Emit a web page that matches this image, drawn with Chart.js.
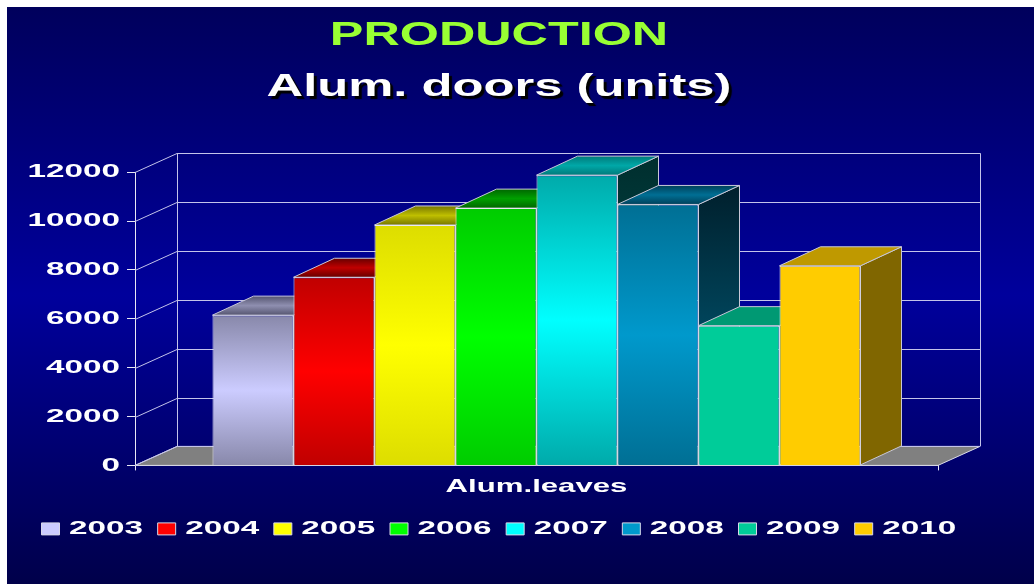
<!DOCTYPE html>
<html><head><meta charset="utf-8">
<script src="https://cdn.jsdelivr.net/npm/chart.js@4/dist/chart.umd.min.js"></script>
<style>html,body{margin:0;padding:0;background:#fff;overflow:hidden}canvas{display:block}</style>
</head><body><canvas id="c" width="1034" height="584"></canvas>
<script>
const categories = ['Alum.leaves'];
const years = ['2003','2004','2005','2006','2007','2008','2009','2010'];
const values = [6150,7700,9840,10530,11880,10680,5720,8170];
const yTicks = [0,2000,4000,6000,8000,10000,12000];
const frontEdge = ['#8888aa','#c00000','#dddd00','#00cc00','#00aaaa','#006f94','#00cc99','#ffcc00'];
const frontMid  = ['#ccccff','#ff0000','#ffff00','#00ff00','#00ffff','#0099cc','#00cc99','#ffcc00'];
const topEnds   = ['#555570','#660000','#777700','#006600','#007a7a','#00405a','#009973','#bf9900'];
const topMid    = ['#8f8fb0','#c00000','#bfbf00','#00a000','#00a8a8','#006f94','#009973','#bf9900'];
const sideTop   = ['#333350','#500000','#505000','#005000','#002e2e','#001f2c','#004d39','#806600'];
const sideBottom= ['#444460','#800000','#808000','#008000','#006060','#006a8a','#006650','#806600'];
const DX = 41, DY = 19;
const STRETCH = {'PRODUCTION':1.48,'Alum. doors (units)':1.585,'Alum.leaves':1.64};

const canvas = document.getElementById('c');
const c2d = canvas.getContext('2d');
const rawFill = c2d.fillText.bind(c2d);
c2d.fillText = function(t,x,y){
  const k = STRETCH[t] || 1.75;
  c2d.save();
  c2d.translate(x,y); c2d.scale(k,1);
  if(t === 'Alum. doors (units)'){ c2d.shadowColor='#000'; c2d.shadowOffsetX=3; c2d.shadowOffsetY=3; c2d.shadowBlur=1; }
  rawFill(t,0,0);
  c2d.restore();
};

function poly(ctx,pts,fill,stroke){
  ctx.beginPath();
  pts.forEach((p,i)=> i?ctx.lineTo(p[0],p[1]):ctx.moveTo(p[0],p[1]));
  ctx.closePath();
  if(fill){ctx.fillStyle=fill;ctx.fill();}
  if(stroke){ctx.strokeStyle=stroke;ctx.lineWidth=1;ctx.stroke();}
}
function line(ctx,a,b,c,d){ctx.beginPath();ctx.moveTo(a,b);ctx.lineTo(c,d);ctx.stroke();}

const scene = {
  id:'scene',
  beforeDraw(ch){
    const ctx=ch.ctx;
    ctx.save();
    const g=ctx.createLinearGradient(0,7,0,584);
    g.addColorStop(0,'#00005c'); g.addColorStop(0.5,'#00009c'); g.addColorStop(1,'#00004a');
    ctx.fillStyle=g; ctx.fillRect(7,7,1027,577);
    ctx.restore();
  },
  beforeDatasetsDraw(ch){
    const ctx=ch.ctx,{left,right,bottom,top}=ch.chartArea,y=ch.scales.y;
    ctx.save();
    poly(ctx,[[left,bottom],[right,bottom],[right+42,bottom-DY],[left+42,bottom-DY]],'#808080','#d8d8e8');
    ctx.strokeStyle='#c4c4ea'; ctx.lineWidth=1;
    yTicks.forEach(v=>{
      const p=Math.round(y.getPixelForValue(v))+0.5;
      line(ctx,left,p,left+42,p-DY);
      line(ctx,left+42,p-DY,right+42,p-DY);
    });
    line(ctx,left+42.5,top-DY,left+42.5,bottom-DY);
    line(ctx,right+42.5,top-DY,right+42.5,bottom-DY);
    ch.data.datasets.forEach((d,i)=>{
      const b=ch.getDatasetMeta(i).data[0];
      const l=b.x-b.width/2,r=b.x+b.width/2,t=b.y,bt=b.base;
      const sg=ctx.createLinearGradient(0,t-DY,0,bt);
      sg.addColorStop(0,sideTop[i]); sg.addColorStop(1,sideBottom[i]);
      poly(ctx,[[r,t],[r+DX,t-DY],[r+DX,bt-DY],[r,bt]],sg,'#c8c8d8');
      const tg=ctx.createLinearGradient(0,t-DY,0,t);
      tg.addColorStop(0,topEnds[i]); tg.addColorStop(0.5,topMid[i]); tg.addColorStop(1,topEnds[i]);
      poly(ctx,[[l,t],[r,t],[r+DX,t-DY],[l+DX,t-DY]],tg,'#c8c8d8');
    });
    ctx.restore();
  },
  afterLayout(ch){ ch.legend.left = 41.5 - ch.options.plugins.legend.labels.padding; ch.legend.top = 473; }
};

function barFill(i){
  return function(c){
    const ch=c.chart;
    if(!ch.chartArea) return frontMid[i];
    const s=ch.scales.y, t=s.getPixelForValue(values[i]), b=s.getPixelForValue(0);
    const g=ch.ctx.createLinearGradient(0,t,0,b);
    g.addColorStop(0,frontEdge[i]); g.addColorStop(0.5,frontMid[i]); g.addColorStop(1,frontEdge[i]);
    return g;
  };
}

const FF='"Liberation Sans"';
new Chart(canvas,{
  type:'bar',
  data:{labels:categories,datasets:years.map((yr,i)=>({
    label:yr,data:[values[i]],backgroundColor:barFill(i),borderColor:'#e8e8f4',borderWidth:1,
    categoryPercentage:0.807,barPercentage:1
  }))},
  plugins:[scene],
  options:{
    responsive:false,animation:false,
    layout:{padding:{left:0,right:36,top:0,bottom:8.2}},
    plugins:{
      tooltip:{enabled:false},
      title:{display:true,text:'PRODUCTION',color:'#99ff33',font:{family:FF,weight:'bold',size:34},padding:{top:15,bottom:0}},
      subtitle:{display:true,text:'Alum. doors (units)',color:'#ffffff',font:{family:FF,weight:'bold',size:32},padding:{top:12,bottom:66}},
      legend:{display:true,position:'bottom',align:'start',
        labels:{color:'#ffffff',font:{family:FF,weight:'bold',size:19},boxWidth:18,boxHeight:12,padding:46.4,
          generateLabels:ch=>years.map((yr,i)=>({text:yr,fillStyle:frontMid[i],strokeStyle:'#d8d8e8',lineWidth:1,datasetIndex:i,fontColor:'#ffffff'}))}}
    },
    scales:{
      x:{position:'bottom',afterFit:s=>{s.height=35;},
        grid:{drawOnChartArea:false,color:'#e8e8f4',tickLength:5},border:{color:'#ffffff'},
        ticks:{color:'#ffffff',padding:4.5,font:{family:FF,weight:'bold',size:19},maxRotation:0}},
      y:{position:'left',min:0,max:12000,afterFit:s=>{s.width=135;},
        afterBuildTicks:s=>{s.ticks=yTicks.map(v=>({value:v}));},
        grid:{drawOnChartArea:false,color:'#e8e8f4',tickLength:8},border:{color:'#e8e8f4'},
        ticks:{color:'#ffffff',padding:7,font:{family:FF,weight:'bold',size:19},callback:v=>String(v)}},
      yr:{position:'right',display:true,afterFit:s=>{s.width=60;},
        grid:{display:false},border:{display:false},ticks:{display:false}}
    }
  }
});
</script></body></html>
